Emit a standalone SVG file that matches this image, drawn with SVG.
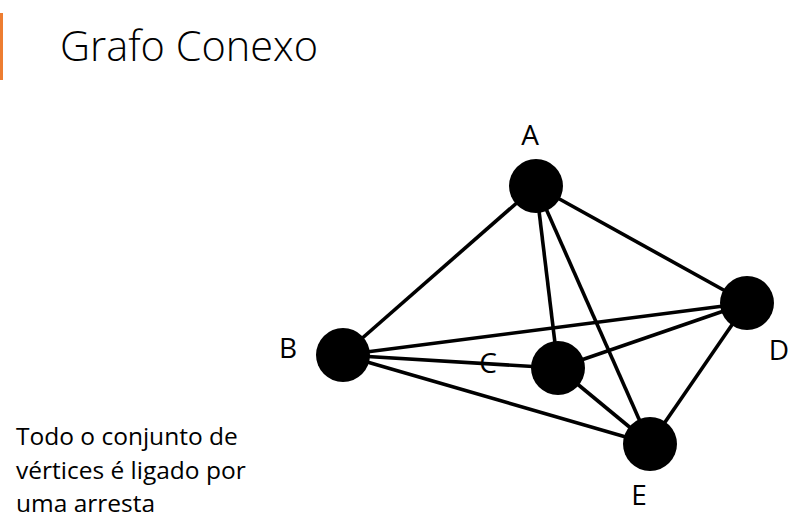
<svg xmlns="http://www.w3.org/2000/svg" width="801" height="520" viewBox="0 0 801 520">
<style>
.edge{stroke:#000;stroke-width:3.6;fill:none}
.node{fill:#000}
.lbl{font-family:"Open Sans","Liberation Sans",sans-serif;font-size:28px;fill:#000}
.body{font-family:"Open Sans","Liberation Sans",sans-serif;font-size:24.5px;fill:#000}
</style>
<rect x="0" y="13" width="3" height="67" fill="#ED7D31"/>
<text x="60" y="61" font-family="'Open Sans','Liberation Sans',sans-serif" font-size="41.5" font-weight="300" fill="#000">Grafo Conexo</text>
<g id="connectors">
<line class="edge" x1="536" y1="186" x2="343" y2="355"/>
<line class="edge" x1="536" y1="186" x2="558" y2="368"/>
<line class="edge" x1="536" y1="186" x2="650" y2="444"/>
<line class="edge" x1="536" y1="186" x2="747" y2="303"/>
<line class="edge" x1="343" y1="355" x2="747" y2="303"/>
<line class="edge" x1="343" y1="355" x2="558" y2="368"/>
<line class="edge" x1="343" y1="355" x2="650" y2="444"/>
<line class="edge" x1="558" y1="368" x2="747" y2="303"/>
<line class="edge" x1="558" y1="368" x2="650" y2="444"/>
<line class="edge" x1="747" y1="303" x2="650" y2="444"/>
</g>
<g id="A"><circle class="node" cx="536" cy="186" r="27"/><text class="lbl" x="530" y="145" text-anchor="middle">A</text></g>
<g id="B"><circle class="node" cx="343" cy="355" r="27"/><text class="lbl" x="288" y="358" text-anchor="middle">B</text></g>
<g id="C"><circle class="node" cx="558" cy="368" r="27"/><text class="lbl" x="488" y="373" text-anchor="middle">C</text></g>
<g id="D"><circle class="node" cx="747" cy="303" r="27"/><text class="lbl" x="779" y="360" text-anchor="middle">D</text></g>
<g id="E"><circle class="node" cx="650" cy="444" r="27"/><text class="lbl" x="639" y="505" text-anchor="middle">E</text></g>
<text class="body" x="16" y="445">Todo o conjunto de</text>
<text class="body" x="16" y="479">vértices é ligado por</text>
<text class="body" x="16" y="512">uma arresta</text>
</svg>
